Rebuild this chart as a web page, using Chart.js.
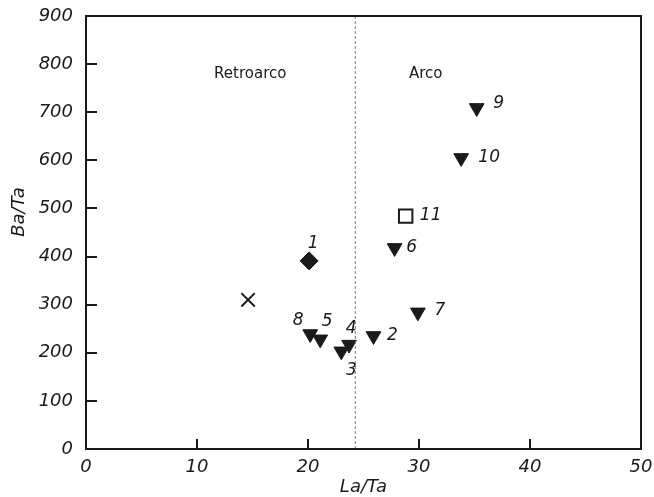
<!DOCTYPE html>
<html><head><meta charset="utf-8">
<script src="https://cdn.jsdelivr.net/npm/chart.js@4/dist/chart.umd.min.js"></script>
<style>html,body{margin:0;padding:0;background:#fff}#wrap{width:654px;height:497px;position:relative}</style>
</head><body><div id="wrap"><canvas id="c"></canvas></div>
<script>
// ---- data ----
const triangleIds   = ['2','3','4','5','6','7','8','9','10'];
const triangleLaTa  = [25.9, 23.0, 23.7, 21.1, 27.8, 29.9, 20.2, 35.2, 33.8];
const triangleBaTa  = [235, 203, 217, 228, 418, 284, 239, 709, 605];
const diamondIds    = ['1'];
const diamondLaTa   = [20.1];
const diamondBaTa   = [391];
const squareIds     = ['11'];
const squareLaTa    = [28.8];
const squareBaTa    = [484];
const crossLaTa     = [14.6];
const crossBaTa     = [310];
const dividerLaTa   = 24.26;
const xTickValues   = [0, 10, 20, 30, 40, 50];
const yTickValues   = [0, 100, 200, 300, 400, 500, 600, 700, 800, 900];
const regionNames   = ['Retroarco', 'Arco'];
const xTitle = 'La/Ta';
const yTitle = 'Ba/Ta';

// ---- styles (pixel offsets of number labels from their marker) ----
const labelOffsets = {
  '1':[4,-17], '2':[19,0], '3':[10,19], '4':[2,-16], '5':[7,-18], '6':[17,0],
  '7':[22,-2], '8':[-12,-13], '9':[22,-4], '10':[28,0], '11':[25,-1]
};
const regionAnchors = [[14.8, 780], [30.6, 780]];
const INK = '#1a1a1a';
const tickFont = 'italic 18px "DejaVu Sans"';

const toPts = (xs, ys) => xs.map((x, i) => ({x, y: ys[i]}));

const annot = {
  id: 'annot',
  afterDraw(chart) {
    const {ctx, chartArea: a, scales: {x, y}} = chart;
    ctx.save();
    // frame
    ctx.strokeStyle = INK; ctx.lineWidth = 2;
    ctx.strokeRect(a.left, a.top, a.right - a.left, a.bottom - a.top);
    // inward ticks
    ctx.beginPath();
    yTickValues.forEach(v => { const py = Math.round(y.getPixelForValue(v)); if (v>0 && v<900){ctx.moveTo(a.left, py); ctx.lineTo(a.left + 11, py);} });
    xTickValues.forEach(v => { const px = Math.round(x.getPixelForValue(v)); if (v>0 && v<50){ctx.moveTo(px, a.bottom); ctx.lineTo(px, a.bottom - 10);} });
    ctx.stroke();
    // number labels
    ctx.fillStyle = INK;
    ctx.font = 'italic 17px "DejaVu Sans"';
    ctx.textAlign = 'center'; ctx.textBaseline = 'middle';
    const put = (ids, xs, ys) => ids.forEach((id, i) => {
      const o = labelOffsets[id];
      ctx.fillText(id, x.getPixelForValue(xs[i]) + o[0], y.getPixelForValue(ys[i]) + o[1]);
    });
    put(triangleIds, triangleLaTa, triangleBaTa);
    put(diamondIds, diamondLaTa, diamondBaTa);
    put(squareIds, squareLaTa, squareBaTa);
    // region names
    ctx.font = '15px "DejaVu Sans"';
    regionNames.forEach((t, i) => ctx.fillText(t, x.getPixelForValue(regionAnchors[i][0]), y.getPixelForValue(regionAnchors[i][1])));
    // axis titles
    ctx.font = tickFont;
    ctx.fillText(xTitle, (a.left + a.right) / 2, 487);
    ctx.save();
    ctx.translate(19, 212); ctx.rotate(-Math.PI / 2);
    ctx.fillText(yTitle, 0, 0);
    ctx.restore();
    ctx.restore();
  }
};

new Chart(document.getElementById('c'), {
  type: 'scatter',
  data: {
    datasets: [
      { type: 'line', data: [{x: dividerLaTa, y: 0}, {x: dividerLaTa, y: 900}],
        borderColor: '#7a7a7a', borderWidth: 1, borderDash: [3, 2], pointRadius: 0, fill: false },
      { data: toPts(triangleLaTa, triangleBaTa), pointStyle: 'triangle', rotation: 180, pointRotation: 180,
        radius: 8.5, pointRadius: 8.5, backgroundColor: INK, borderColor: INK, borderWidth: 1 },
      { data: toPts(diamondLaTa, diamondBaTa), pointStyle: 'rectRot', pointRadius: 9,
        backgroundColor: INK, borderColor: INK, borderWidth: 1 },
      { data: toPts(squareLaTa, squareBaTa), pointStyle: 'rect', pointRadius: 9.5,
        backgroundColor: '#fff', borderColor: INK, borderWidth: 2 },
      { data: toPts(crossLaTa, crossBaTa), pointStyle: 'crossRot', pointRadius: 9.5,
        backgroundColor: INK, borderColor: INK, borderWidth: 2 }
    ]
  },
  options: {
    responsive: true, maintainAspectRatio: false, animation: false,
    layout: { padding: { top: 16, right: 13, left: 0, bottom: 0 } },
    plugins: { legend: { display: false }, tooltip: { enabled: false } },
    scales: {
      x: { type: 'linear', min: 0, max: 50,
        afterFit: s => { s.height = 48; s.paddingLeft = 0; s.paddingRight = 0; },
        afterBuildTicks: s => { s.ticks = xTickValues.map(v => ({value: v})); },
        grid: { display: false, drawTicks: false }, border: { display: false },
        ticks: { padding: 8, color: INK, font: { family: 'DejaVu Sans', size: 18, style: 'italic' }, maxRotation: 0 } },
      y: { type: 'linear', min: 0, max: 900,
        afterFit: s => { s.width = 86; s.paddingTop = 0; s.paddingBottom = 0; },
        afterBuildTicks: s => { s.ticks = yTickValues.map(v => ({value: v})); },
        grid: { display: false, drawTicks: false }, border: { display: false },
        ticks: { padding: 13, color: INK, font: { family: 'DejaVu Sans', size: 18, style: 'italic' } } }
    }
  },
  plugins: [annot]
});
</script></body></html>
